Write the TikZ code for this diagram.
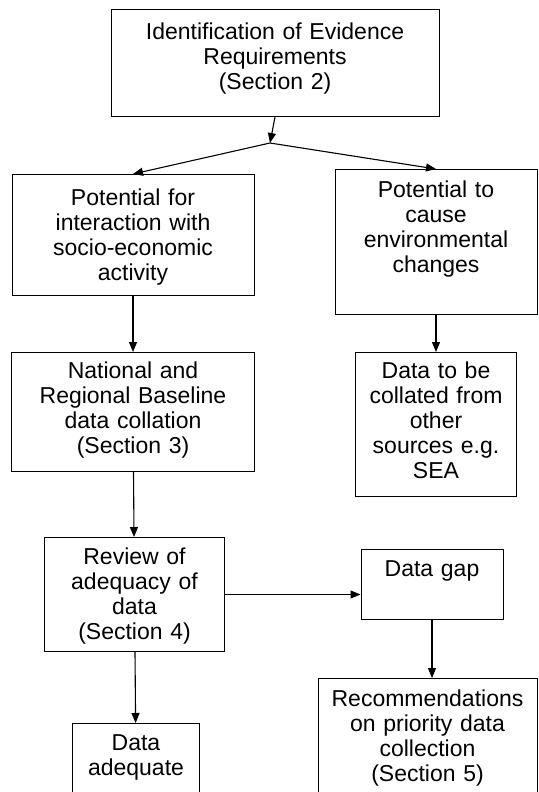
\documentclass[tikz,border=0pt]{standalone}
\usepackage{fontspec}
\setmainfont{Liberation Sans}
\usetikzlibrary{positioning,arrows.meta}

\tikzset{
  stepbox/.style n args={3}{draw, line width=1pt, align=center, inner sep=0pt,
    font=\fontsize{23}{25}\selectfont, text width=#1, text height=#2, text depth=#3},
}

\begin{document}
\begin{tikzpicture}[x=1pt,y=-1pt,>={Triangle[length=10pt,width=8pt]},line width=1.1pt]
\useasboundingbox (0,0) rectangle (538,792);
\node (req) [stepbox={328pt}{30pt}{77pt}, anchor=north] at (275,9) {Identification of Evidence\\Requirements\\(Section 2)};
\node (socio) [stepbox={242pt}{31pt}{90pt}, anchor=north] at (133,174) {Potential for\\interaction with\\socio-economic\\activity};
\node (env) [stepbox={202pt}{28pt}{117pt}, anchor=north] at (436,169) {Potential to\\cause\\environmental\\changes};
\node (natl) [stepbox={243pt}{26pt}{93pt}, below=56pt of socio] {National and\\Regional Baseline\\data collation\\(Section 3)};
\node (other) [stepbox={161pt}{26pt}{118pt}, below=37pt of env] {Data to be\\collated from\\other\\sources e.g.\\SEA};
\node (review) [stepbox={180pt}{27pt}{87pt}, below=65pt of natl, xshift=1.5pt] {Review of\\adequacy of\\data\\(Section 4)};
\node (gap) [stepbox={142pt}{27pt}{43pt}, anchor=north] at (432,549) {Data gap};
\node (rec) [stepbox={219pt}{28pt}{86pt}, below=58pt of gap, xshift=-4.5pt] {Recommendations\\on priority data\\collection\\(Section 5)};
\node (adequate) [stepbox={127pt}{27pt}{63pt}, below=71pt of review, xshift=1.5pt] {Data\\adequate};
\coordinate (split) at (270,143);

\draw[->] (req.south) -- (split);
\draw[->] (split) -- (socio.north);
\draw[->] (split) -- (env.north);
\draw[->] (socio) -- (natl);
\draw[->] (env) -- (other);
\draw[->] (natl) -- (review);
\draw[->] (review.east) -- (review.east -| gap.west);
\draw[->] (gap.south) -- (gap.south |- rec.north);
\draw[->] (review) -- (adequate);
\end{tikzpicture}
\end{document}
